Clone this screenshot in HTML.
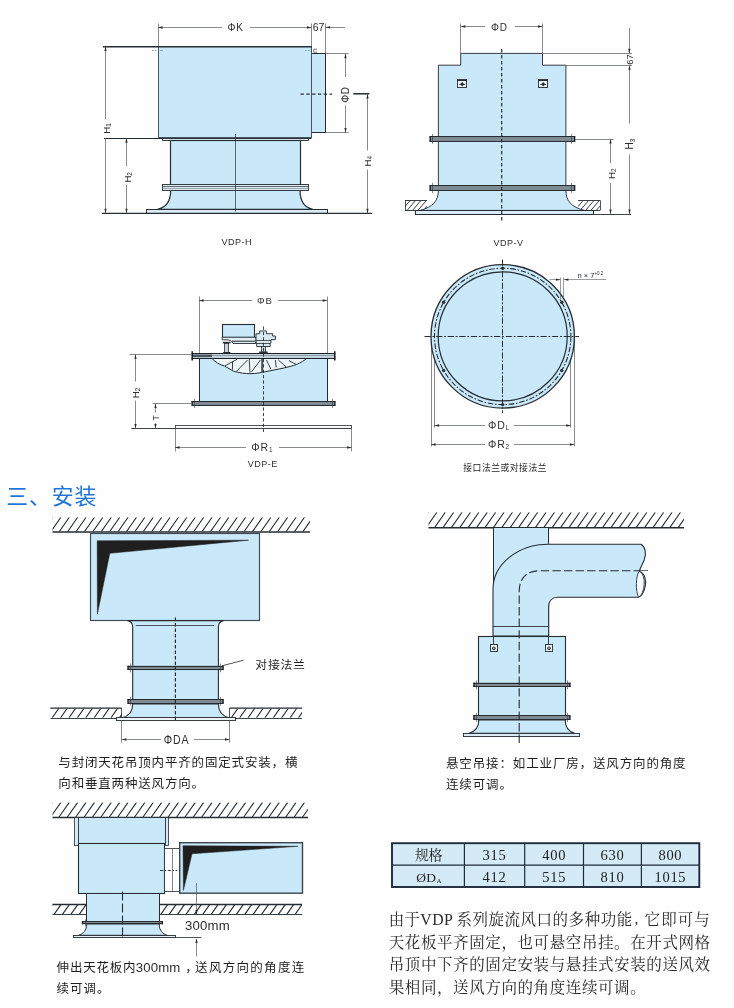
<!DOCTYPE html>
<html lang="zh"><head><meta charset="utf-8"><title>VDP</title>
<style>html,body{margin:0;padding:0;background:#fefefe}svg{display:block}</style></head>
<body>
<svg width="734" height="1008" viewBox="0 0 734 1008">
<rect width="734" height="1008" fill="#fefefe"/>
<g opacity="0.999">
<g id="vdp-h">
<line x1="158.5" y1="23.5" x2="158.5" y2="46.5" stroke="#555a5e" stroke-width="0.7"/>
<line x1="311.5" y1="23.5" x2="311.5" y2="46.5" stroke="#555a5e" stroke-width="0.7"/>
<line x1="325.5" y1="23.5" x2="325.5" y2="53.5" stroke="#555a5e" stroke-width="0.7"/>
<line x1="158" y1="27.5" x2="222" y2="27.5" stroke="#555a5e" stroke-width="0.7"/>
<line x1="250" y1="27.5" x2="311.5" y2="27.5" stroke="#555a5e" stroke-width="0.7"/>
<polygon points="158,27.5 162.6,26.35 162.6,28.65" fill="#2a2a2a"/>
<polygon points="311.5,27.5 306.9,28.65 306.9,26.35" fill="#2a2a2a"/>
<text x="235.5" y="31" style="font-family:'Liberation Sans',sans-serif" font-size="10" text-anchor="middle" fill="#2e2e2e" letter-spacing="0.8">ΦK</text>
<text x="318.6" y="31" style="font-family:'Liberation Sans',sans-serif" font-size="10.5" text-anchor="middle" fill="#2e2e2e">67</text>
<line x1="325.5" y1="27.5" x2="345" y2="27.5" stroke="#555a5e" stroke-width="0.7"/>
<polygon points="325.5,27.3 330.1,26.15 330.1,28.45" fill="#2a2a2a"/>
<line x1="103" y1="46.8" x2="158" y2="46.8" stroke="#252c32" stroke-width="1.5"/>
<line x1="104" y1="138.5" x2="163" y2="138.5" stroke="#252c32" stroke-width="1.1"/>
<rect x="311.5" y="53.5" width="14" height="79" fill="#c9e8f9" stroke="#252c32" stroke-width="1"/>
<rect x="158.5" y="46.5" width="153" height="91" fill="#c9e8f9" stroke="#46555f" stroke-width="1"/>
<line x1="158" y1="46.8" x2="311.8" y2="46.8" stroke="#252c32" stroke-width="1.5"/>
<line x1="158.3" y1="138.5" x2="311.5" y2="138.5" stroke="#252c32" stroke-width="1"/>
<line x1="152" y1="50.5" x2="156.5" y2="50.5" stroke="#555a5e" stroke-width="0.6" stroke-dasharray="1.6 1.2"/>
<line x1="160" y1="50.5" x2="163" y2="50.5" stroke="#5b7f99" stroke-width="0.6"/>
<line x1="305" y1="50.5" x2="310" y2="50.5" stroke="#5b7f99" stroke-width="0.6" stroke-dasharray="1.6 1.2"/>
<path d="M317 49.2h-3.2v3h3.2" fill="none" stroke="#252c32" stroke-width="0.6"/>
<rect x="162.5" y="138.5" width="146" height="2" fill="#e6f2f9" stroke="#252c32" stroke-width="0.9"/>
<rect x="170.5" y="140.5" width="130" height="45" fill="#c9e8f9" stroke="#252c32" stroke-width="1.2"/>
<path d="M170.7 190C170.7 202 166 207 157.5 209.4H312.8C304.5 207 300 202 300 190Z" fill="#c9e8f9" stroke="#252c32" stroke-width="1.2"/>
<rect x="162.5" y="184.5" width="146" height="6" fill="#dbeaf3" stroke="#252c32" stroke-width="0.9"/>
<line x1="162.4" y1="186.5" x2="308.6" y2="186.5" stroke="#252c32" stroke-width="0.7"/>
<line x1="162.4" y1="188.5" x2="308.6" y2="188.5" stroke="#6f7a82" stroke-width="0.6"/>
<rect x="146.5" y="209.5" width="181" height="4" fill="#d9ebf6" stroke="#252c32" stroke-width="1"/>
<line x1="102" y1="213.3" x2="372" y2="213.3" stroke="#252c32" stroke-width="1.3"/>
<line x1="235.5" y1="134" x2="235.5" y2="211.5" stroke="#252c32" stroke-width="0.7"/>
<line x1="300.5" y1="94.2" x2="332" y2="94.2" stroke="#2a3036" stroke-width="1.2" stroke-dasharray="3.4 2.4"/>
<line x1="105.5" y1="46.5" x2="105.5" y2="119" stroke="#555a5e" stroke-width="0.7"/>
<line x1="105.5" y1="138" x2="105.5" y2="213.3" stroke="#555a5e" stroke-width="0.7"/>
<polygon points="105.5,46.5 106.65,51.1 104.35,51.1" fill="#2a2a2a"/>
<polygon points="105.5,213.3 104.35,208.7 106.65,208.7" fill="#2a2a2a"/>
<text x="110" y="133.8" style="font-family:'Liberation Sans',sans-serif" font-size="9.6" text-anchor="start" fill="#2e2e2e" transform="rotate(-90 110 133.8)">H<tspan font-size="6.4" dy="1.3">1</tspan></text>
<line x1="126.5" y1="138.1" x2="126.5" y2="166" stroke="#555a5e" stroke-width="0.7"/>
<line x1="126.5" y1="185" x2="126.5" y2="213.3" stroke="#555a5e" stroke-width="0.7"/>
<polygon points="126.5,138.1 127.65,142.7 125.35,142.7" fill="#2a2a2a"/>
<polygon points="126.5,213.3 125.35,208.7 127.65,208.7" fill="#2a2a2a"/>
<text x="131.2" y="182.6" style="font-family:'Liberation Sans',sans-serif" font-size="9.6" text-anchor="start" fill="#2e2e2e" transform="rotate(-90 131.2 182.6)">H<tspan font-size="6.4" dy="1.3">2</tspan></text>
<line x1="325.5" y1="53.5" x2="348.5" y2="53.5" stroke="#555a5e" stroke-width="0.7"/>
<line x1="325.5" y1="132.5" x2="348.5" y2="132.5" stroke="#555a5e" stroke-width="0.7"/>
<line x1="345.5" y1="53.6" x2="345.5" y2="77" stroke="#555a5e" stroke-width="0.7"/>
<line x1="345.5" y1="105.5" x2="345.5" y2="132.6" stroke="#555a5e" stroke-width="0.7"/>
<polygon points="345.5,53.6 346.65,58.2 344.35,58.2" fill="#2a2a2a"/>
<polygon points="345.5,132.6 344.35,128 346.65,128" fill="#2a2a2a"/>
<text x="349.2" y="94.5" style="font-family:'Liberation Sans',sans-serif" font-size="10" text-anchor="middle" fill="#2e2e2e" transform="rotate(-90 349.2 94.5)" letter-spacing="0.6">ΦD</text>
<line x1="353.3" y1="93.8" x2="369.3" y2="93.8" stroke="#252c32" stroke-width="1.5"/>
<line x1="367.5" y1="94" x2="367.5" y2="150.5" stroke="#555a5e" stroke-width="0.7"/>
<line x1="367.5" y1="169.5" x2="367.5" y2="213.3" stroke="#555a5e" stroke-width="0.7"/>
<polygon points="367.5,94 368.65,98.6 366.35,98.6" fill="#2a2a2a"/>
<polygon points="367.5,213.3 366.35,208.7 368.65,208.7" fill="#2a2a2a"/>
<text x="371" y="166.5" style="font-family:'Liberation Sans',sans-serif" font-size="9.6" text-anchor="start" fill="#2e2e2e" transform="rotate(-90 371 166.5)">H<tspan font-size="6.4" dy="1.3">4</tspan></text>
<text x="236.8" y="244.8" style="font-family:'Liberation Sans',sans-serif" font-size="9.1" text-anchor="middle" fill="#2e2e2e" letter-spacing="0.5">VDP-H</text>
</g>
<g id="vdp-v">
<line x1="460.5" y1="23.5" x2="460.5" y2="53.4" stroke="#555a5e" stroke-width="0.7"/>
<line x1="542.5" y1="23.5" x2="542.5" y2="53.4" stroke="#555a5e" stroke-width="0.7"/>
<line x1="460.7" y1="26.5" x2="485" y2="26.5" stroke="#555a5e" stroke-width="0.7"/>
<line x1="515" y1="26.5" x2="542.5" y2="26.5" stroke="#555a5e" stroke-width="0.7"/>
<polygon points="460.7,26.5 465.3,25.35 465.3,27.65" fill="#2a2a2a"/>
<polygon points="542.5,26.5 537.9,27.65 537.9,25.35" fill="#2a2a2a"/>
<text x="499.5" y="30.5" style="font-family:'Liberation Sans',sans-serif" font-size="10" text-anchor="middle" fill="#2e2e2e" letter-spacing="0.8">ΦD</text>
<clipPath id="h1"><rect x="405" y="200.2" width="22" height="10.2"/></clipPath>
<path clip-path="url(#h1)" d="M396.33 210.4l8.67 -10.2M401.73 210.4l8.67 -10.2M407.13 210.4l8.67 -10.2M412.53 210.4l8.67 -10.2M417.93 210.4l8.67 -10.2M423.33 210.4l8.67 -10.2" fill="none" stroke="#252c32" stroke-width="0.9"/>
<line x1="405" y1="200.5" x2="427" y2="200.5" stroke="#252c32" stroke-width="0.9"/>
<line x1="405" y1="210.5" x2="427" y2="210.5" stroke="#252c32" stroke-width="0.9"/>
<clipPath id="h2"><rect x="578" y="200.2" width="22" height="10.2"/></clipPath>
<path clip-path="url(#h2)" d="M569.33 210.4l8.67 -10.2M574.73 210.4l8.67 -10.2M580.13 210.4l8.67 -10.2M585.53 210.4l8.67 -10.2M590.93 210.4l8.67 -10.2M596.33 210.4l8.67 -10.2" fill="none" stroke="#252c32" stroke-width="0.9"/>
<line x1="578" y1="200.5" x2="600" y2="200.5" stroke="#252c32" stroke-width="0.9"/>
<line x1="578" y1="210.5" x2="600" y2="210.5" stroke="#252c32" stroke-width="0.9"/>
<line x1="405.5" y1="200.2" x2="405.5" y2="210.4" stroke="#252c32" stroke-width="0.8"/>
<line x1="600.5" y1="200.2" x2="600.5" y2="210.4" stroke="#252c32" stroke-width="0.8"/>
<path d="M460.7 53.4H542.5V65.2H565.9V190C565.9 201 571 207 584.5 210.4H420C433 207 438.4 201 438.4 190V65.2H460.7Z" fill="#c9e8f9" stroke="#343d45" stroke-width="1"/>
<rect x="415.5" y="210.5" width="178" height="4" fill="#d9ebf6" stroke="#252c32" stroke-width="1"/>
<line x1="415" y1="214.5" x2="631" y2="214.5" stroke="#252c32" stroke-width="0.9"/>
<line x1="542.5" y1="53.5" x2="632" y2="53.5" stroke="#555a5e" stroke-width="0.7"/>
<line x1="565.9" y1="65.5" x2="632" y2="65.5" stroke="#555a5e" stroke-width="0.7"/>
<line x1="629.5" y1="28" x2="629.5" y2="53.4" stroke="#555a5e" stroke-width="0.7"/>
<polygon points="629.3,53.4 628.15,48.8 630.45,48.8" fill="#2a2a2a"/>
<text x="633" y="59.5" style="font-family:'Liberation Sans',sans-serif" font-size="9.5" text-anchor="middle" fill="#2e2e2e" transform="rotate(-90 633 59.5)">67</text>
<line x1="629.5" y1="65.2" x2="629.5" y2="123.5" stroke="#555a5e" stroke-width="0.7"/>
<line x1="629.5" y1="154.5" x2="629.5" y2="214" stroke="#555a5e" stroke-width="0.7"/>
<polygon points="629.5,65.2 630.65,69.8 628.35,69.8" fill="#2a2a2a"/>
<polygon points="629.5,214 628.35,209.4 630.65,209.4" fill="#2a2a2a"/>
<text x="633.3" y="149.5" style="font-family:'Liberation Sans',sans-serif" font-size="10" text-anchor="start" fill="#2e2e2e" transform="rotate(-90 633.3 149.5)">H<tspan font-size="6.4" dy="1.3">3</tspan></text>
<line x1="575" y1="139.5" x2="613.5" y2="139.5" stroke="#555a5e" stroke-width="0.7"/>
<line x1="610.5" y1="139" x2="610.5" y2="163" stroke="#555a5e" stroke-width="0.7"/>
<line x1="610.5" y1="183" x2="610.5" y2="214" stroke="#555a5e" stroke-width="0.7"/>
<polygon points="610.5,139 611.65,143.6 609.35,143.6" fill="#2a2a2a"/>
<polygon points="610.5,214 609.35,209.4 611.65,209.4" fill="#2a2a2a"/>
<text x="614.6" y="179" style="font-family:'Liberation Sans',sans-serif" font-size="9.6" text-anchor="start" fill="#2e2e2e" transform="rotate(-90 614.6 179)">H<tspan font-size="6.4" dy="1.3">2</tspan></text>
<rect x="429.6" y="136.2" width="145.6" height="5.4" fill="#7f8a93" stroke="none" stroke-width="0"/>
<line x1="429.6" y1="136.5" x2="575.2" y2="136.5" stroke="#20262b" stroke-width="0.95"/>
<line x1="429.6" y1="141.5" x2="575.2" y2="141.5" stroke="#20262b" stroke-width="0.95"/>
<line x1="430.2" y1="136.2" x2="430.2" y2="141.6" stroke="#1c2126" stroke-width="1.3"/>
<line x1="432.5" y1="134" x2="432.5" y2="143.8" stroke="#30383f" stroke-width="0.6"/>
<line x1="574.6" y1="136.2" x2="574.6" y2="141.6" stroke="#1c2126" stroke-width="1.3"/>
<line x1="571.5" y1="134" x2="571.5" y2="143.8" stroke="#30383f" stroke-width="0.6"/>
<rect x="429.6" y="185.2" width="145.6" height="5.4" fill="#7f8a93" stroke="none" stroke-width="0"/>
<line x1="429.6" y1="185.5" x2="575.2" y2="185.5" stroke="#20262b" stroke-width="0.95"/>
<line x1="429.6" y1="190.5" x2="575.2" y2="190.5" stroke="#20262b" stroke-width="0.95"/>
<line x1="430.2" y1="185.2" x2="430.2" y2="190.6" stroke="#1c2126" stroke-width="1.3"/>
<line x1="432.5" y1="183" x2="432.5" y2="192.8" stroke="#30383f" stroke-width="0.6"/>
<line x1="574.6" y1="185.2" x2="574.6" y2="190.6" stroke="#1c2126" stroke-width="1.3"/>
<line x1="571.5" y1="183" x2="571.5" y2="192.8" stroke="#30383f" stroke-width="0.6"/>
<rect x="457.5" y="79.5" width="9" height="8" fill="#f2f7fa" stroke="#252c32" stroke-width="0.9"/>
<line x1="457.6" y1="80.5" x2="466.8" y2="80.5" stroke="#252c32" stroke-width="1"/>
<line x1="459.2" y1="84.5" x2="465.2" y2="84.5" stroke="#252c32" stroke-width="0.8"/>
<path d="M460.1 84.2l2.1-2.2 2.1 2.2-2.1 2.2z" fill="#2a3137" stroke="none" stroke-width="0"/>
<rect x="538.5" y="79.5" width="9" height="8" fill="#f2f7fa" stroke="#252c32" stroke-width="0.9"/>
<line x1="538.6" y1="80.5" x2="547.8" y2="80.5" stroke="#252c32" stroke-width="1"/>
<line x1="540.2" y1="84.5" x2="546.2" y2="84.5" stroke="#252c32" stroke-width="0.8"/>
<path d="M541.1 84.2l2.1-2.2 2.1 2.2-2.1 2.2z" fill="#2a3137" stroke="none" stroke-width="0"/>
<line x1="501.7" y1="49" x2="501.7" y2="221" stroke="#252c32" stroke-width="1.2" stroke-dasharray="3.4 2.6"/>
<text x="508.5" y="245.5" style="font-family:'Liberation Sans',sans-serif" font-size="9" text-anchor="middle" fill="#2e2e2e" letter-spacing="0.5">VDP-V</text>
</g>
<g id="vdp-e">
<line x1="199.5" y1="296.5" x2="199.5" y2="353.5" stroke="#555a5e" stroke-width="0.7"/>
<line x1="327.5" y1="296.5" x2="327.5" y2="353.5" stroke="#555a5e" stroke-width="0.7"/>
<line x1="199" y1="300.5" x2="252" y2="300.5" stroke="#555a5e" stroke-width="0.7"/>
<line x1="278" y1="300.5" x2="327.3" y2="300.5" stroke="#555a5e" stroke-width="0.7"/>
<polygon points="199,300.5 203.6,299.35 203.6,301.65" fill="#2a2a2a"/>
<polygon points="327.3,300.5 322.7,301.65 322.7,299.35" fill="#2a2a2a"/>
<text x="264.8" y="303.5" style="font-family:'Liberation Sans',sans-serif" font-size="9.5" text-anchor="middle" fill="#2e2e2e" letter-spacing="0.8">ΦB</text>
<rect x="199.5" y="358.5" width="128" height="43" fill="#c9e8f9" stroke="#252c32" stroke-width="1"/>
<path d="M211.5 358C215 362 220 365 224.5 366L233.5 371.2C240 373 246 373.8 250 373.7C256 373.7 262 372.5 268 371.2C273 370.2 278 369.2 283 368.2C288 367 292.5 366 296.4 364.5C301 362.5 304.5 360.5 307 358Z" fill="#eef6fa" stroke="#252c32" stroke-width="1"/>
<line x1="225.2" y1="365.7" x2="237.2" y2="359.2" stroke="#252c32" stroke-width="0.9"/>
<line x1="232.5" y1="361.5" x2="232.5" y2="369.7" stroke="#252c32" stroke-width="0.9"/>
<line x1="236.5" y1="371.2" x2="247.7" y2="360" stroke="#252c32" stroke-width="0.9"/>
<line x1="249.2" y1="359.2" x2="250" y2="372.7" stroke="#252c32" stroke-width="0.9"/>
<line x1="251.5" y1="372" x2="260.4" y2="360" stroke="#252c32" stroke-width="0.9"/>
<line x1="266.4" y1="360" x2="270.9" y2="369" stroke="#252c32" stroke-width="0.9"/>
<line x1="275.4" y1="360" x2="276.2" y2="367.5" stroke="#252c32" stroke-width="0.9"/>
<line x1="278.4" y1="360" x2="286.7" y2="367.5" stroke="#252c32" stroke-width="0.9"/>
<line x1="288.9" y1="360.7" x2="296.4" y2="364.5" stroke="#252c32" stroke-width="0.9"/>
<line x1="262.2" y1="359" x2="262.2" y2="372.7" stroke="#48545c" stroke-width="2"/>
<rect x="222.5" y="324.5" width="32" height="13" fill="#c9e8f9" stroke="#252c32" stroke-width="1.1"/>
<path d="M222.2 337.2H256V343.5H233C231.5 340.5 229 339.8 226 339.8H222.2Z" fill="#e2eef5" stroke="#252c32" stroke-width="0.9"/>
<path d="M232 341.2H255" fill="none" stroke="#252c32" stroke-width="1"/>
<path d="M256 340.6V333.7H259.7V330.9H266.4V333.7H272.6V336H275.4V339.6H271V343H270.2V346.5H256.7V343H256Z" fill="#d9e8f1" stroke="#252c32" stroke-width="0.9"/>
<line x1="256" y1="340.5" x2="271" y2="340.5" stroke="#252c32" stroke-width="0.8"/>
<line x1="256.7" y1="343.5" x2="270.2" y2="343.5" stroke="#252c32" stroke-width="0.8"/>
<rect x="224.5" y="343.5" width="4" height="10" fill="#c9d6de" stroke="#252c32" stroke-width="0.8"/>
<rect x="261.5" y="346.5" width="4" height="7" fill="#c9d6de" stroke="#252c32" stroke-width="0.8"/>
<line x1="222.8" y1="342.6" x2="230.6" y2="342.6" stroke="#252c32" stroke-width="1.5"/>
<line x1="223.2" y1="352.6" x2="230.4" y2="352.6" stroke="#252c32" stroke-width="1.2"/>
<line x1="259.2" y1="352.2" x2="267.6" y2="352.2" stroke="#252c32" stroke-width="1.5"/>
<rect x="191.8" y="353.2" width="143.4" height="5.2" fill="#c3d3dd" stroke="none" stroke-width="0"/>
<line x1="191.8" y1="353.5" x2="335.2" y2="353.5" stroke="#1c2227" stroke-width="1"/>
<line x1="191.8" y1="358.5" x2="335.2" y2="358.5" stroke="#1c2227" stroke-width="1"/>
<line x1="192.5" y1="355.8" x2="212" y2="355.8" stroke="#4a555d" stroke-width="2.6"/>
<line x1="212" y1="355.5" x2="334" y2="355.5" stroke="#6d7c86" stroke-width="0.6"/>
<line x1="192.2" y1="351.2" x2="192.2" y2="360.4" stroke="#1c1c1c" stroke-width="1.5"/>
<line x1="334.8" y1="351.2" x2="334.8" y2="360.4" stroke="#1c1c1c" stroke-width="1.5"/>
<rect x="191.6" y="401.1" width="143.8" height="4.6" fill="#7f8a93" stroke="none" stroke-width="0"/>
<line x1="191.6" y1="401.5" x2="335.4" y2="401.5" stroke="#20262b" stroke-width="0.95"/>
<line x1="191.6" y1="405.5" x2="335.4" y2="405.5" stroke="#20262b" stroke-width="0.95"/>
<line x1="192.2" y1="401.1" x2="192.2" y2="405.7" stroke="#1c2126" stroke-width="1.3"/>
<line x1="194.5" y1="398.9" x2="194.5" y2="407.9" stroke="#30383f" stroke-width="0.6"/>
<line x1="334.8" y1="401.1" x2="334.8" y2="405.7" stroke="#1c2126" stroke-width="1.3"/>
<line x1="332.5" y1="398.9" x2="332.5" y2="407.9" stroke="#30383f" stroke-width="0.6"/>
<rect x="175.5" y="425.5" width="176" height="3" fill="#f7fafc" stroke="#252c32" stroke-width="0.8"/>
<line x1="131.3" y1="428.5" x2="351.7" y2="428.5" stroke="#3c4248" stroke-width="1"/>
<line x1="129.5" y1="354.5" x2="191.8" y2="354.5" stroke="#555a5e" stroke-width="0.7"/>
<line x1="135.5" y1="354.2" x2="135.5" y2="381.5" stroke="#555a5e" stroke-width="0.7"/>
<line x1="135.5" y1="400.5" x2="135.5" y2="428.6" stroke="#555a5e" stroke-width="0.7"/>
<polygon points="135.5,354.2 136.65,358.8 134.35,358.8" fill="#2a2a2a"/>
<polygon points="135.5,428.6 134.35,424 136.65,424" fill="#2a2a2a"/>
<text x="139" y="398.2" style="font-family:'Liberation Sans',sans-serif" font-size="9.6" text-anchor="start" fill="#2e2e2e" transform="rotate(-90 139 398.2)">H<tspan font-size="6.4" dy="1.3">2</tspan></text>
<line x1="152.7" y1="403.5" x2="191.8" y2="403.5" stroke="#555a5e" stroke-width="0.7"/>
<line x1="155.5" y1="403.5" x2="155.5" y2="412.5" stroke="#555a5e" stroke-width="0.7"/>
<line x1="155.5" y1="423" x2="155.5" y2="428.6" stroke="#555a5e" stroke-width="0.7"/>
<polygon points="155.5,403.5 156.65,408.1 154.35,408.1" fill="#2a2a2a"/>
<polygon points="155.5,428.6 154.35,424 156.65,424" fill="#2a2a2a"/>
<text x="158.6" y="418" style="font-family:'Liberation Sans',sans-serif" font-size="8.5" text-anchor="middle" fill="#2e2e2e" transform="rotate(-90 158.6 418)">T</text>
<line x1="175.5" y1="428.4" x2="175.5" y2="451.5" stroke="#555a5e" stroke-width="0.7"/>
<line x1="351.5" y1="428.4" x2="351.5" y2="451.5" stroke="#555a5e" stroke-width="0.7"/>
<line x1="175" y1="447.5" x2="246" y2="447.5" stroke="#555a5e" stroke-width="0.7"/>
<line x1="279" y1="447.5" x2="351.7" y2="447.5" stroke="#555a5e" stroke-width="0.7"/>
<polygon points="175,447.5 179.6,446.35 179.6,448.65" fill="#2a2a2a"/>
<polygon points="351.7,447.5 347.1,448.65 347.1,446.35" fill="#2a2a2a"/>
<text x="262.3" y="451" style="font-family:'Liberation Sans',sans-serif" font-size="10.5" text-anchor="middle" fill="#2e2e2e" letter-spacing="0.8">ΦR<tspan font-size="6.4" dy="1.3">1</tspan></text>
<line x1="263.5" y1="326.5" x2="263.5" y2="432" stroke="#252c32" stroke-width="0.9" stroke-dasharray="3.2 2.2"/>
<text x="262.7" y="467.2" style="font-family:'Liberation Sans',sans-serif" font-size="9" text-anchor="middle" fill="#2e2e2e" letter-spacing="0.5">VDP-E</text>
</g>
<g id="flange">
<line x1="434.5" y1="336.4" x2="434.5" y2="427.5" stroke="#555a5e" stroke-width="0.7"/>
<line x1="570.5" y1="336.4" x2="570.5" y2="427.5" stroke="#555a5e" stroke-width="0.7"/>
<line x1="431.5" y1="336.4" x2="431.5" y2="446.5" stroke="#555a5e" stroke-width="0.7"/>
<line x1="574.5" y1="336.4" x2="574.5" y2="446.5" stroke="#555a5e" stroke-width="0.7"/>
<circle cx="502.7" cy="336.4" r="71.7" fill="#c9e8f9" stroke="#252c32" stroke-width="1.3"/>
<circle cx="502.7" cy="336.4" r="64.5" fill="none" stroke="#252c32" stroke-width="1.2"/>
<circle cx="502.7" cy="336.4" r="68.2" fill="none" stroke="#1d2830" stroke-width="1.05" stroke-dasharray="5.4 1.8 1.6 1.8"/>
<circle cx="561.76" cy="302.3" r="1.7" fill="#2d3338" stroke="none" stroke-width="0"/>
<circle cx="502.7" cy="268.2" r="1.7" fill="#2d3338" stroke="none" stroke-width="0"/>
<circle cx="443.64" cy="302.3" r="1.7" fill="#2d3338" stroke="none" stroke-width="0"/>
<circle cx="443.64" cy="370.5" r="1.7" fill="#2d3338" stroke="none" stroke-width="0"/>
<circle cx="502.7" cy="404.6" r="1.7" fill="#2d3338" stroke="none" stroke-width="0"/>
<circle cx="561.76" cy="370.5" r="1.7" fill="#2d3338" stroke="none" stroke-width="0"/>
<line x1="424.5" y1="336.5" x2="579" y2="336.5" stroke="#252c32" stroke-width="1" stroke-dasharray="6.2 1.8 1.8 1.8"/>
<line x1="502.5" y1="259.6" x2="502.5" y2="413" stroke="#252c32" stroke-width="1" stroke-dasharray="6.2 1.8 1.8 1.8"/>
<line x1="560.5" y1="277.5" x2="560.5" y2="299" stroke="#555a5e" stroke-width="0.6"/>
<line x1="563.5" y1="277.5" x2="563.5" y2="298" stroke="#555a5e" stroke-width="0.6"/>
<line x1="549.5" y1="279.5" x2="560.4" y2="279.5" stroke="#555a5e" stroke-width="0.6"/>
<polygon points="560.4,279.7 555.9,280.8 555.9,278.6" fill="#2a2a2a"/>
<line x1="563.9" y1="279.5" x2="606" y2="279.5" stroke="#555a5e" stroke-width="0.6"/>
<polygon points="563.9,279.7 568.4,278.6 568.4,280.8" fill="#2a2a2a"/>
<text x="577.6" y="277.6" style="font-family:'Liberation Sans',sans-serif" font-size="7.5" text-anchor="start" fill="#2e2e2e">n × 7<tspan font-size="4.5" dy="-3">+0.2</tspan></text>
<line x1="434.5" y1="425.5" x2="485" y2="425.5" stroke="#555a5e" stroke-width="0.7"/>
<line x1="514" y1="425.5" x2="570.9" y2="425.5" stroke="#555a5e" stroke-width="0.7"/>
<polygon points="434.5,425.5 439.1,424.35 439.1,426.65" fill="#2a2a2a"/>
<polygon points="570.9,425.5 566.3,426.65 566.3,424.35" fill="#2a2a2a"/>
<text x="499" y="428.8" style="font-family:'Liberation Sans',sans-serif" font-size="10.5" text-anchor="middle" fill="#2e2e2e" letter-spacing="0.8">ΦD<tspan font-size="6.4" dy="1.3">L</tspan></text>
<line x1="431" y1="444.5" x2="485" y2="444.5" stroke="#555a5e" stroke-width="0.7"/>
<line x1="514" y1="444.5" x2="574.4" y2="444.5" stroke="#555a5e" stroke-width="0.7"/>
<polygon points="431,444.5 435.6,443.35 435.6,445.65" fill="#2a2a2a"/>
<polygon points="574.4,444.5 569.8,445.65 569.8,443.35" fill="#2a2a2a"/>
<text x="499" y="447.8" style="font-family:'Liberation Sans',sans-serif" font-size="10.5" text-anchor="middle" fill="#2e2e2e" letter-spacing="0.8">ΦR<tspan font-size="6.4" dy="1.3">2</tspan></text>
<text x="463.3" y="470.6" style="font-family:'Liberation Sans','Noto Sans CJK SC',sans-serif" font-size="8.8" letter-spacing="0.5" fill="#1f1f1f">接口法兰或对接法兰</text>
</g>
<g id="install1">
<text x="6.2" y="504.3" style="font-family:'Liberation Sans','Noto Sans CJK SC',sans-serif" font-size="21.9" letter-spacing="0.85" fill="#1f75d5">三、安装</text>
<clipPath id="h3"><rect x="52.5" y="517.3" width="257.5" height="14.5"/></clipPath>
<path clip-path="url(#h3)" d="M42.35 531.8l10.15 -14.5M50.75 531.8l10.15 -14.5M59.15 531.8l10.15 -14.5M67.55 531.8l10.15 -14.5M75.95 531.8l10.15 -14.5M84.35 531.8l10.15 -14.5M92.75 531.8l10.15 -14.5M101.15 531.8l10.15 -14.5M109.55 531.8l10.15 -14.5M117.95 531.8l10.15 -14.5M126.35 531.8l10.15 -14.5M134.75 531.8l10.15 -14.5M143.15 531.8l10.15 -14.5M151.55 531.8l10.15 -14.5M159.95 531.8l10.15 -14.5M168.35 531.8l10.15 -14.5M176.75 531.8l10.15 -14.5M185.15 531.8l10.15 -14.5M193.55 531.8l10.15 -14.5M201.95 531.8l10.15 -14.5M210.35 531.8l10.15 -14.5M218.75 531.8l10.15 -14.5M227.15 531.8l10.15 -14.5M235.55 531.8l10.15 -14.5M243.95 531.8l10.15 -14.5M252.35 531.8l10.15 -14.5M260.75 531.8l10.15 -14.5M269.15 531.8l10.15 -14.5M277.55 531.8l10.15 -14.5M285.95 531.8l10.15 -14.5M294.35 531.8l10.15 -14.5M302.75 531.8l10.15 -14.5" fill="none" stroke="#252c32" stroke-width="1.1"/>
<line x1="52.5" y1="532" x2="310" y2="532" stroke="#252c32" stroke-width="1.4"/>
<rect x="90.5" y="533.5" width="169" height="87" fill="#c9e8f9" stroke="#3f4b54" stroke-width="1.15"/>
<path d="M97.2 540.8L248.5 540.2L109.8 553.3L97.4 614Z" fill="#1f1f1f" stroke="#1f1f1f" stroke-width="0.5"/>
<clipPath id="h4"><rect x="50.5" y="708.2" width="71.1" height="9.6"/></clipPath>
<path clip-path="url(#h4)" d="M43.78 717.8l6.72 -9.6M52.18 717.8l6.72 -9.6M60.58 717.8l6.72 -9.6M68.98 717.8l6.72 -9.6M77.38 717.8l6.72 -9.6M85.78 717.8l6.72 -9.6M94.18 717.8l6.72 -9.6M102.58 717.8l6.72 -9.6M110.98 717.8l6.72 -9.6M119.38 717.8l6.72 -9.6" fill="none" stroke="#252c32" stroke-width="1.1"/>
<line x1="50.5" y1="708.1" x2="121.6" y2="708.1" stroke="#252c32" stroke-width="1.3"/>
<line x1="50.5" y1="718.5" x2="121.6" y2="718.5" stroke="#252c32" stroke-width="0.9"/>
<clipPath id="h5"><rect x="229.6" y="708.2" width="72.4" height="9.6"/></clipPath>
<path clip-path="url(#h5)" d="M222.88 717.8l6.72 -9.6M231.28 717.8l6.72 -9.6M239.68 717.8l6.72 -9.6M248.08 717.8l6.72 -9.6M256.48 717.8l6.72 -9.6M264.88 717.8l6.72 -9.6M273.28 717.8l6.72 -9.6M281.68 717.8l6.72 -9.6M290.08 717.8l6.72 -9.6M298.48 717.8l6.72 -9.6" fill="none" stroke="#252c32" stroke-width="1.1"/>
<line x1="229.6" y1="708.1" x2="302" y2="708.1" stroke="#252c32" stroke-width="1.3"/>
<line x1="229.6" y1="718.5" x2="302" y2="718.5" stroke="#252c32" stroke-width="0.9"/>
<line x1="121.5" y1="708" x2="121.5" y2="718" stroke="#252c32" stroke-width="0.8"/>
<line x1="229.5" y1="708" x2="229.5" y2="718" stroke="#252c32" stroke-width="0.8"/>
<path d="M127.6 620.6C131.2 621.2 132.7 623.4 132.7 627V704H218.4V627C218.4 623.4 219.9 621.2 223.5 620.6Z" fill="#c9e8f9" stroke="#252c32" stroke-width="1.1"/>
<line x1="135.7" y1="625.5" x2="214" y2="625.5" stroke="#4a5963" stroke-width="1.15"/>
<path d="M132.7 704C132.7 712.34 127.84 716.4 121.9 717.9H229.3C223.31 716.4 218.4 712.34 218.4 704Z" fill="#c9e8f9" stroke="#252c32" stroke-width="1.1"/>
<rect x="116.5" y="717.5" width="119" height="3" fill="#eef5f9" stroke="#252c32" stroke-width="0.9"/>
<rect x="127.5" y="665.7" width="96.1" height="4.4" fill="#7f8a93" stroke="none" stroke-width="0"/>
<line x1="127.5" y1="666.5" x2="223.6" y2="666.5" stroke="#20262b" stroke-width="0.95"/>
<line x1="127.5" y1="669.5" x2="223.6" y2="669.5" stroke="#20262b" stroke-width="0.95"/>
<line x1="128.1" y1="665.7" x2="128.1" y2="670.1" stroke="#1c2126" stroke-width="1.3"/>
<line x1="130.5" y1="663.5" x2="130.5" y2="672.3" stroke="#30383f" stroke-width="0.6"/>
<line x1="223" y1="665.7" x2="223" y2="670.1" stroke="#1c2126" stroke-width="1.3"/>
<line x1="220.5" y1="663.5" x2="220.5" y2="672.3" stroke="#30383f" stroke-width="0.6"/>
<rect x="127.5" y="699.1" width="96.1" height="4.4" fill="#7f8a93" stroke="none" stroke-width="0"/>
<line x1="127.5" y1="699.5" x2="223.6" y2="699.5" stroke="#20262b" stroke-width="0.95"/>
<line x1="127.5" y1="703.5" x2="223.6" y2="703.5" stroke="#20262b" stroke-width="0.95"/>
<line x1="128.1" y1="699.1" x2="128.1" y2="703.5" stroke="#1c2126" stroke-width="1.3"/>
<line x1="130.5" y1="696.9" x2="130.5" y2="705.7" stroke="#30383f" stroke-width="0.6"/>
<line x1="223" y1="699.1" x2="223" y2="703.5" stroke="#1c2126" stroke-width="1.3"/>
<line x1="220.5" y1="696.9" x2="220.5" y2="705.7" stroke="#30383f" stroke-width="0.6"/>
<line x1="175.4" y1="617.5" x2="175.4" y2="720.5" stroke="#252c32" stroke-width="1.2" stroke-dasharray="3.5 2"/>
<line x1="222" y1="665.8" x2="243.5" y2="660.2" stroke="#252c32" stroke-width="0.8"/>
<text x="255.3" y="668.7" style="font-family:'Liberation Sans','Noto Sans CJK SC',sans-serif" font-size="11.9" letter-spacing="0.7" fill="#1f1f1f">对接法兰</text>
<line x1="121.5" y1="721" x2="121.5" y2="742.5" stroke="#555a5e" stroke-width="0.7"/>
<line x1="229.5" y1="721" x2="229.5" y2="742.5" stroke="#555a5e" stroke-width="0.7"/>
<line x1="121.8" y1="739.5" x2="161" y2="739.5" stroke="#555a5e" stroke-width="0.7"/>
<line x1="194" y1="739.5" x2="229.6" y2="739.5" stroke="#555a5e" stroke-width="0.7"/>
<polygon points="121.8,739.5 126.4,738.35 126.4,740.65" fill="#2a2a2a"/>
<polygon points="229.6,739.5 225,740.65 225,738.35" fill="#2a2a2a"/>
<text x="0" y="0" style="font-family:'Liberation Sans',sans-serif" font-size="12.6" text-anchor="middle" fill="#2e2e2e" transform="translate(176.5 744) scale(0.84 1)" letter-spacing="0.9">ΦDA</text>
<text x="58.3" y="767.2" style="font-family:'Liberation Sans','Noto Sans CJK SC',sans-serif" font-size="12.5" letter-spacing="0.83" fill="#1f1f1f">与封闭天花吊顶内平齐的固定式安装，横</text>
<text x="58.3" y="788.2" style="font-family:'Liberation Sans','Noto Sans CJK SC',sans-serif" font-size="12.5" letter-spacing="0.83" fill="#1f1f1f">向和垂直两种送风方向。</text>
</g>
<g id="install2">
<clipPath id="h6"><rect x="428.5" y="512.3" width="255.5" height="15.3"/></clipPath>
<path clip-path="url(#h6)" d="M417.79 527.6l10.71 -15.3M426.19 527.6l10.71 -15.3M434.59 527.6l10.71 -15.3M442.99 527.6l10.71 -15.3M451.39 527.6l10.71 -15.3M459.79 527.6l10.71 -15.3M468.19 527.6l10.71 -15.3M476.59 527.6l10.71 -15.3M484.99 527.6l10.71 -15.3M493.39 527.6l10.71 -15.3M501.79 527.6l10.71 -15.3M510.19 527.6l10.71 -15.3M518.59 527.6l10.71 -15.3M526.99 527.6l10.71 -15.3M535.39 527.6l10.71 -15.3M543.79 527.6l10.71 -15.3M552.19 527.6l10.71 -15.3M560.59 527.6l10.71 -15.3M568.99 527.6l10.71 -15.3M577.39 527.6l10.71 -15.3M585.79 527.6l10.71 -15.3M594.19 527.6l10.71 -15.3M602.59 527.6l10.71 -15.3M610.99 527.6l10.71 -15.3M619.39 527.6l10.71 -15.3M627.79 527.6l10.71 -15.3M636.19 527.6l10.71 -15.3M644.59 527.6l10.71 -15.3M652.99 527.6l10.71 -15.3M661.39 527.6l10.71 -15.3M669.79 527.6l10.71 -15.3M678.19 527.6l10.71 -15.3" fill="none" stroke="#252c32" stroke-width="1.1"/>
<line x1="428.5" y1="527.8" x2="684" y2="527.8" stroke="#252c32" stroke-width="1.4"/>
<rect x="493.5" y="527.5" width="55" height="109" fill="#c9e8f9" stroke="#252c32" stroke-width="1"/>
<path d="M493 636V589A55.7 44.8 0 0 1 548.7 544.2H640.8C645.2 546.5 646.8 553 644.2 560C641.6 566 639.6 569.5 639.4 571.3C644.6 573 646.6 580 645.2 586.5C644 592 641.6 596.4 638.6 597.2H557.7C552 597.2 548.7 601 548.7 606.7V636Z" fill="#c9e8f9" stroke="#252c32" stroke-width="1.1"/>
<path d="M639.4 571.3C635.6 575 635.4 592 638.6 597.2C644.8 594.5 647 574.5 639.4 571.3Z" fill="#f7fbfd" stroke="#252c32" stroke-width="0.9"/>
<line x1="493" y1="626.5" x2="548.7" y2="626.5" stroke="#252c32" stroke-width="0.9"/>
<rect x="478.5" y="636.5" width="87" height="84" fill="#c9e8f9" stroke="#252c32" stroke-width="1.1"/>
<path d="M478.8 720C478.8 727.98 474.39 731.8 469 733.3H574.6C569.43 731.8 565.2 727.98 565.2 720Z" fill="#c9e8f9" stroke="#252c32" stroke-width="1.1"/>
<rect x="463.5" y="733.5" width="116" height="3" fill="#dcecf6" stroke="#252c32" stroke-width="0.9"/>
<line x1="493.5" y1="636" x2="493.5" y2="645" stroke="#252c32" stroke-width="0.9"/>
<line x1="548.5" y1="636" x2="548.5" y2="645" stroke="#252c32" stroke-width="0.9"/>
<rect x="490.5" y="644.5" width="7" height="7" fill="#eef5f9" stroke="#252c32" stroke-width="0.9"/>
<circle cx="493.8" cy="648.3" r="1.84" fill="#3a434a" stroke="none" stroke-width="0"/>
<circle cx="493.8" cy="648.3" r="0.68" fill="#dfe9ef" stroke="none" stroke-width="0"/>
<rect x="545.5" y="644.5" width="7" height="7" fill="#eef5f9" stroke="#252c32" stroke-width="0.9"/>
<circle cx="549" cy="648.3" r="1.84" fill="#3a434a" stroke="none" stroke-width="0"/>
<circle cx="549" cy="648.3" r="0.68" fill="#dfe9ef" stroke="none" stroke-width="0"/>
<rect x="473.4" y="682.6" width="97" height="4.4" fill="#7f8a93" stroke="none" stroke-width="0"/>
<line x1="473.4" y1="683.5" x2="570.4" y2="683.5" stroke="#20262b" stroke-width="0.95"/>
<line x1="473.4" y1="686.5" x2="570.4" y2="686.5" stroke="#20262b" stroke-width="0.95"/>
<line x1="474" y1="682.6" x2="474" y2="687" stroke="#1c2126" stroke-width="1.3"/>
<line x1="476.5" y1="680.4" x2="476.5" y2="689.2" stroke="#30383f" stroke-width="0.6"/>
<line x1="569.8" y1="682.6" x2="569.8" y2="687" stroke="#1c2126" stroke-width="1.3"/>
<line x1="567.5" y1="680.4" x2="567.5" y2="689.2" stroke="#30383f" stroke-width="0.6"/>
<rect x="473.4" y="715.3" width="97" height="4.4" fill="#7f8a93" stroke="none" stroke-width="0"/>
<line x1="473.4" y1="715.5" x2="570.4" y2="715.5" stroke="#20262b" stroke-width="0.95"/>
<line x1="473.4" y1="719.5" x2="570.4" y2="719.5" stroke="#20262b" stroke-width="0.95"/>
<line x1="474" y1="715.3" x2="474" y2="719.7" stroke="#1c2126" stroke-width="1.3"/>
<line x1="476.5" y1="713.1" x2="476.5" y2="721.9" stroke="#30383f" stroke-width="0.6"/>
<line x1="569.8" y1="715.3" x2="569.8" y2="719.7" stroke="#1c2126" stroke-width="1.3"/>
<line x1="567.5" y1="713.1" x2="567.5" y2="721.9" stroke="#30383f" stroke-width="0.6"/>
<path d="M519.2 743V591C519.6 578 526 571 540 570.7H640" fill="none" stroke="#252c32" stroke-width="1.1" stroke-dasharray="8.4 3.2"/>
<line x1="640" y1="570.5" x2="648" y2="570.5" stroke="#252c32" stroke-width="0.7"/>
<text x="446" y="768" style="font-family:'Liberation Sans','Noto Sans CJK SC',sans-serif" font-size="12.5" letter-spacing="0.86" fill="#1f1f1f">悬空吊接：如工业厂房，送风方向的角度</text>
<text x="446" y="788.7" style="font-family:'Liberation Sans','Noto Sans CJK SC',sans-serif" font-size="12.5" letter-spacing="0.86" fill="#1f1f1f">连续可调。</text>
</g>
<g id="install3">
<clipPath id="h7"><rect x="52.5" y="802.4" width="255.5" height="14.9"/></clipPath>
<path clip-path="url(#h7)" d="M42.07 817.3l10.43 -14.9M50.47 817.3l10.43 -14.9M58.87 817.3l10.43 -14.9M67.27 817.3l10.43 -14.9M75.67 817.3l10.43 -14.9M84.07 817.3l10.43 -14.9M92.47 817.3l10.43 -14.9M100.87 817.3l10.43 -14.9M109.27 817.3l10.43 -14.9M117.67 817.3l10.43 -14.9M126.07 817.3l10.43 -14.9M134.47 817.3l10.43 -14.9M142.87 817.3l10.43 -14.9M151.27 817.3l10.43 -14.9M159.67 817.3l10.43 -14.9M168.07 817.3l10.43 -14.9M176.47 817.3l10.43 -14.9M184.87 817.3l10.43 -14.9M193.27 817.3l10.43 -14.9M201.67 817.3l10.43 -14.9M210.07 817.3l10.43 -14.9M218.47 817.3l10.43 -14.9M226.87 817.3l10.43 -14.9M235.27 817.3l10.43 -14.9M243.67 817.3l10.43 -14.9M252.07 817.3l10.43 -14.9M260.47 817.3l10.43 -14.9M268.87 817.3l10.43 -14.9M277.27 817.3l10.43 -14.9M285.67 817.3l10.43 -14.9M294.07 817.3l10.43 -14.9M302.47 817.3l10.43 -14.9" fill="none" stroke="#252c32" stroke-width="1.1"/>
<line x1="52.5" y1="817.5" x2="308" y2="817.5" stroke="#252c32" stroke-width="1.4"/>
<clipPath id="h8"><rect x="52.5" y="904.6" width="34.2" height="10"/></clipPath>
<path clip-path="url(#h8)" d="M45.5 914.6l7 -10M53.9 914.6l7 -10M62.3 914.6l7 -10M70.7 914.6l7 -10M79.1 914.6l7 -10" fill="none" stroke="#252c32" stroke-width="1.1"/>
<line x1="52.5" y1="904.5" x2="86.7" y2="904.5" stroke="#252c32" stroke-width="1.3"/>
<line x1="52.5" y1="914.5" x2="86.7" y2="914.5" stroke="#252c32" stroke-width="0.9"/>
<clipPath id="h9"><rect x="159.2" y="904.6" width="142.8" height="10"/></clipPath>
<path clip-path="url(#h9)" d="M152.2 914.6l7 -10M160.6 914.6l7 -10M169 914.6l7 -10M177.4 914.6l7 -10M185.8 914.6l7 -10M194.2 914.6l7 -10M202.6 914.6l7 -10M211 914.6l7 -10M219.4 914.6l7 -10M227.8 914.6l7 -10M236.2 914.6l7 -10M244.6 914.6l7 -10M253 914.6l7 -10M261.4 914.6l7 -10M269.8 914.6l7 -10M278.2 914.6l7 -10M286.6 914.6l7 -10M295 914.6l7 -10" fill="none" stroke="#252c32" stroke-width="1.1"/>
<line x1="159.2" y1="904.5" x2="302" y2="904.5" stroke="#252c32" stroke-width="1.3"/>
<line x1="159.2" y1="914.5" x2="302" y2="914.5" stroke="#252c32" stroke-width="0.9"/>
<rect x="78.5" y="817.5" width="87" height="26" fill="#c9e8f9" stroke="#252c32" stroke-width="0.9"/>
<rect x="74.5" y="817.5" width="4" height="28" fill="#d6e8f3" stroke="#252c32" stroke-width="0.8"/>
<rect x="165.5" y="817.5" width="3" height="28" fill="#d6e8f3" stroke="#252c32" stroke-width="0.8"/>
<rect x="78.5" y="843.5" width="86" height="50" fill="#c9e8f9" stroke="#252c32" stroke-width="1.1"/>
<rect x="164.5" y="848.5" width="15" height="43" fill="#fbfdfe" stroke="#252c32" stroke-width="0.8"/>
<line x1="172.5" y1="848.6" x2="172.5" y2="891.6" stroke="#4a545c" stroke-width="0.7"/>
<rect x="179.7" y="842.7" width="122.8" height="50.5" fill="#c9e8f9" stroke="#3a464f" stroke-width="1.4"/>
<path d="M183 845.8L298 846.3L192 853.8L183.4 890.5Z" fill="#1f1f1f" stroke="#1f1f1f" stroke-width="0.5"/>
<line x1="160" y1="870.5" x2="177.3" y2="870.5" stroke="#252c32" stroke-width="0.9" stroke-dasharray="3.4 1.6 1.2 1.6"/>
<rect x="86.5" y="893.5" width="73" height="29" fill="#c9e8f9" stroke="#252c32" stroke-width="1"/>
<path d="M86.7 924C86.7 930.78 83.05 933.8 78.6 935.3H167.2C162.8 933.8 159.2 930.78 159.2 924Z" fill="#c9e8f9" stroke="#252c32" stroke-width="1"/>
<rect x="73.5" y="935.5" width="102" height="2" fill="#e8f2f8" stroke="#252c32" stroke-width="0.9"/>
<rect x="81.9" y="921.5" width="81.1" height="2.8" fill="#7f8a93" stroke="none" stroke-width="0"/>
<line x1="81.9" y1="921.5" x2="163" y2="921.5" stroke="#20262b" stroke-width="0.95"/>
<line x1="81.9" y1="923.5" x2="163" y2="923.5" stroke="#20262b" stroke-width="0.95"/>
<line x1="82.5" y1="921.5" x2="82.5" y2="924.3" stroke="#1c2126" stroke-width="1.3"/>
<line x1="85.5" y1="919.3" x2="85.5" y2="926.5" stroke="#30383f" stroke-width="0.6"/>
<line x1="162.4" y1="921.5" x2="162.4" y2="924.3" stroke="#1c2126" stroke-width="1.3"/>
<line x1="159.5" y1="919.3" x2="159.5" y2="926.5" stroke="#30383f" stroke-width="0.6"/>
<line x1="122.5" y1="891.4" x2="122.5" y2="937.2" stroke="#252c32" stroke-width="1.1" stroke-dasharray="9 3"/>
<line x1="196.5" y1="883" x2="196.5" y2="914.3" stroke="#555a5e" stroke-width="0.7"/>
<polygon points="196.5,914.8 195.35,910.2 197.65,910.2" fill="#2a2a2a"/>
<line x1="175.4" y1="937.5" x2="201.5" y2="937.5" stroke="#252c32" stroke-width="0.8"/>
<line x1="196.5" y1="956.5" x2="196.5" y2="938.9" stroke="#555a5e" stroke-width="0.7"/>
<polygon points="196.5,938.4 197.65,943 195.35,943" fill="#2a2a2a"/>
<text x="185" y="929.8" style="font-family:'Liberation Sans',sans-serif" font-size="13.2" text-anchor="start" fill="#2e2e2e" letter-spacing="0.2">300mm</text>
<text x="56.6" y="972" style="font-family:'Liberation Sans','Noto Sans CJK SC',sans-serif" font-size="12.5" letter-spacing="0.8" fill="#1f1f1f">伸出天花板内</text>
<text x="135.7" y="971.7" style="font-family:'Liberation Sans',sans-serif" font-size="13.2" text-anchor="start" fill="#2e2e2e" letter-spacing="0.15">300mm</text>
<text x="185.2" y="972" style="font-family:'Liberation Sans','Noto Sans CJK SC',sans-serif" font-size="12.5" fill="#1f1f1f">，</text>
<text x="195.1" y="972" style="font-family:'Liberation Sans','Noto Sans CJK SC',sans-serif" font-size="12.5" letter-spacing="1.3" fill="#1f1f1f">送风方向的角度连</text>
<text x="56.6" y="992.6" style="font-family:'Liberation Sans','Noto Sans CJK SC',sans-serif" font-size="12.5" letter-spacing="1" fill="#1f1f1f">续可调。</text>
</g>
<g id="table">
<rect x="392" y="843.2" width="307.3" height="43.8" fill="#d5eaf7" stroke="#1d2b3a" stroke-width="1.9" fill-opacity="0.998"/>
<line x1="392" y1="865.2" x2="699.3" y2="865.2" stroke="#1d2b3a" stroke-width="1.2"/>
<line x1="464.4" y1="843" x2="464.4" y2="887" stroke="#1d2b3a" stroke-width="1.2"/>
<line x1="524.7" y1="843" x2="524.7" y2="887" stroke="#1d2b3a" stroke-width="1.2"/>
<line x1="583.5" y1="843" x2="583.5" y2="887" stroke="#1d2b3a" stroke-width="1.2"/>
<line x1="641.4" y1="843" x2="641.4" y2="887" stroke="#1d2b3a" stroke-width="1.2"/>
<text x="415" y="860.2" style="font-family:'Liberation Serif','Noto Serif CJK SC',serif" font-size="13.9" letter-spacing="-0.4" fill="#222">规格</text>
<text x="429" y="881.8" style="font-family:'Liberation Serif',serif" font-size="13.5" text-anchor="middle" fill="#222" letter-spacing="0.3">ØD<tspan font-size="7" dy="1.5">A</tspan></text>
<text x="494.5" y="860.2" style="font-family:'Liberation Serif',serif" font-size="14.5" text-anchor="middle" fill="#222" letter-spacing="0.7">315</text>
<text x="494.5" y="881.8" style="font-family:'Liberation Serif',serif" font-size="14.5" text-anchor="middle" fill="#222" letter-spacing="0.7">412</text>
<text x="554.2" y="860.2" style="font-family:'Liberation Serif',serif" font-size="14.5" text-anchor="middle" fill="#222" letter-spacing="0.7">400</text>
<text x="554.2" y="881.8" style="font-family:'Liberation Serif',serif" font-size="14.5" text-anchor="middle" fill="#222" letter-spacing="0.7">515</text>
<text x="612.5" y="860.2" style="font-family:'Liberation Serif',serif" font-size="14.5" text-anchor="middle" fill="#222" letter-spacing="0.7">630</text>
<text x="612.5" y="881.8" style="font-family:'Liberation Serif',serif" font-size="14.5" text-anchor="middle" fill="#222" letter-spacing="0.7">810</text>
<text x="670.4" y="860.2" style="font-family:'Liberation Serif',serif" font-size="14.5" text-anchor="middle" fill="#222" letter-spacing="0.7">800</text>
<text x="670.4" y="881.8" style="font-family:'Liberation Serif',serif" font-size="14.5" text-anchor="middle" fill="#222" letter-spacing="0.7">1015</text>
</g><g id="para">
<text x="388.8" y="924.8" style="font-family:'Liberation Serif','Noto Serif CJK SC',serif" font-size="15.5" letter-spacing="0.2" fill="#2a2a2a">由于</text>
<text x="420.2" y="924.6" style="font-family:'Liberation Serif',serif" font-size="15.8" text-anchor="start" fill="#2a2a2a" letter-spacing="0.55">VDP</text>
<text x="456.4" y="924.8" style="font-family:'Liberation Serif','Noto Serif CJK SC',serif" font-size="15.5" letter-spacing="0.53" fill="#2a2a2a">系列旋流风口的多种功能</text>
<text x="634.6" y="924.3" style="font-family:'Liberation Serif',serif" font-size="15" text-anchor="start" fill="#2a2a2a">,</text>
<text x="644.6" y="924.8" style="font-family:'Liberation Serif','Noto Serif CJK SC',serif" font-size="15.5" letter-spacing="1.05" fill="#2a2a2a">它即可与</text>
<text x="388.7" y="947.5" style="font-family:'Liberation Serif','Noto Serif CJK SC',serif" font-size="15.5" letter-spacing="0.6" fill="#2a2a2a">天花板平齐固定，也可悬空吊挂。在开式网格</text>
<text x="388.7" y="970.4" style="font-family:'Liberation Serif','Noto Serif CJK SC',serif" font-size="15.5" letter-spacing="0.6" fill="#2a2a2a">吊顶中下齐的固定安装与悬挂式安装的送风效</text>
<text x="388.7" y="993.2" style="font-family:'Liberation Serif','Noto Serif CJK SC',serif" font-size="15.5" letter-spacing="0.6" fill="#2a2a2a">果相同，送风方向的角度连续可调。</text>
</g>
</g>
</svg>
</body></html>
